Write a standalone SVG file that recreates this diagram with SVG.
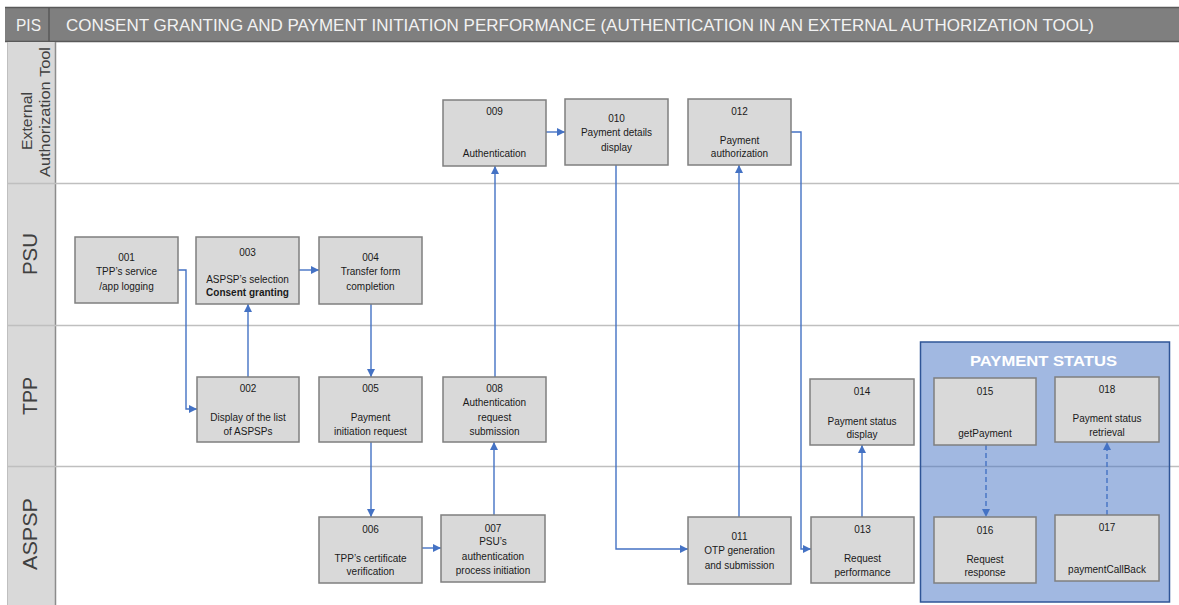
<svg xmlns="http://www.w3.org/2000/svg" width="1179" height="605" viewBox="0 0 1179 605">
  <style>
    .node rect { fill: #d9d9d9; stroke: #7f7f7f; stroke-width: 1.5; }
    .node text { font-family: "Liberation Sans", Arial, sans-serif; font-size: 10px; fill: #1a1a1a; text-anchor: middle; }
    .node text.b { font-weight: bold; }
    .lane-label { font-family: "Liberation Sans", Arial, sans-serif; fill: #404040; text-anchor: middle; }
    .sep { stroke: #bfbfbf; stroke-width: 1.5; }
    .conn { fill: none; stroke: #4472c4; stroke-width: 1.4; }
    .dash { stroke-dasharray: 5 3; }
  </style>
  <defs>
    <marker id="arrow" markerUnits="userSpaceOnUse" markerWidth="9" markerHeight="9" refX="8" refY="4" orient="auto">
      <path d="M0,0 L8,4 L0,8 Z" fill="#4472c4"/>
    </marker>
  </defs>

  <rect x="0" y="0" width="1179" height="605" fill="#ffffff"/>

  <!-- title band -->
  <g id="header">
    <rect x="5" y="7" width="1174" height="35" fill="#7f7f7f"/>
    <line x1="5" y1="7.5" x2="1179" y2="7.5" stroke="#595959" stroke-width="1.5"/>
    <line x1="5" y1="41.5" x2="1179" y2="41.5" stroke="#595959" stroke-width="1.5"/>
    <line x1="49" y1="7" x2="49" y2="42" stroke="#595959" stroke-width="1.5"/>
    <text x="28.5" y="30.5" font-family="Liberation Sans, Arial, sans-serif" font-size="17" fill="#f2f2f2" text-anchor="middle" textLength="25" lengthAdjust="spacingAndGlyphs">PIS</text>
    <text x="66" y="30.5" font-family="Liberation Sans, Arial, sans-serif" font-size="17" fill="#f2f2f2" textLength="1028" lengthAdjust="spacingAndGlyphs">CONSENT GRANTING AND PAYMENT INITIATION PERFORMANCE (AUTHENTICATION IN AN EXTERNAL AUTHORIZATION TOOL)</text>
  </g>

  <!-- lane label column -->
  <g id="lanes">
    <rect x="7" y="42" width="49" height="563" fill="#d9d9d9"/>
    <line x1="7.5" y1="42" x2="7.5" y2="605" stroke="#bfbfbf" stroke-width="1"/>
    <line x1="55.5" y1="42" x2="55.5" y2="605" stroke="#8c8c8c" stroke-width="1.5"/>
    <text class="lane-label" font-size="15" transform="translate(32,121) rotate(-90)" textLength="58" lengthAdjust="spacingAndGlyphs">External</text>
    <text class="lane-label" font-size="15" transform="translate(50,112) rotate(-90)" textLength="130" lengthAdjust="spacingAndGlyphs">Authorization Tool</text>
    <text class="lane-label" font-size="20" transform="translate(37,254) rotate(-90)" textLength="42" lengthAdjust="spacingAndGlyphs">PSU</text>
    <text class="lane-label" font-size="20" transform="translate(37,396) rotate(-90)" textLength="38" lengthAdjust="spacingAndGlyphs">TPP</text>
    <text class="lane-label" font-size="20" transform="translate(37,534) rotate(-90)" textLength="72" lengthAdjust="spacingAndGlyphs">ASPSP</text>
    <line class="sep" x1="7" y1="183.5" x2="1179" y2="183.5"/>
    <line class="sep" x1="7" y1="325.5" x2="1179" y2="325.5"/>
    <line class="sep" x1="7" y1="466.5" x2="1179" y2="466.5"/>
  </g>

  <!-- payment status container -->
  <g id="payment-status">
    <rect x="920.5" y="342" width="249" height="260" fill="#4472c4" fill-opacity="0.5" stroke="#2f5597" stroke-width="1.5"/>
    <text x="1043.5" y="365.5" font-family="Liberation Sans, Arial, sans-serif" font-size="15" font-weight="bold" fill="#ffffff" text-anchor="middle" textLength="147" lengthAdjust="spacingAndGlyphs">PAYMENT STATUS</text>
  </g>

  <!-- connectors -->
  <g id="connectors">
    <polyline class="conn" points="178,270 186,270 186,409 197,409" marker-end="url(#arrow)"/>
    <line class="conn" x1="248" y1="377" x2="248" y2="304" marker-end="url(#arrow)"/>
    <line class="conn" x1="299" y1="270" x2="319" y2="270" marker-end="url(#arrow)"/>
    <line class="conn" x1="371" y1="304" x2="371" y2="377" marker-end="url(#arrow)"/>
    <line class="conn" x1="371" y1="442" x2="371" y2="517" marker-end="url(#arrow)"/>
    <line class="conn" x1="422" y1="548" x2="441" y2="548" marker-end="url(#arrow)"/>
    <line class="conn" x1="494" y1="515" x2="494" y2="442" marker-end="url(#arrow)"/>
    <line class="conn" x1="495" y1="377" x2="495" y2="166" marker-end="url(#arrow)"/>
    <line class="conn" x1="546" y1="132" x2="565" y2="132" marker-end="url(#arrow)"/>
    <polyline class="conn" points="616,165 616,549 688,549" marker-end="url(#arrow)"/>
    <line class="conn" x1="739" y1="517" x2="739" y2="165" marker-end="url(#arrow)"/>
    <polyline class="conn" points="791,132 801,132 801,549 811,549" marker-end="url(#arrow)"/>
    <line class="conn" x1="862" y1="517" x2="862" y2="445" marker-end="url(#arrow)"/>
    <line class="conn dash" x1="986" y1="445" x2="986" y2="517" marker-end="url(#arrow)"/>
    <line class="conn dash" x1="1107" y1="515" x2="1107" y2="442" marker-end="url(#arrow)"/>
  </g>

  <!-- PSU lane -->
  <g id="n001" class="node">
    <rect x="75" y="237" width="103" height="66"/>
    <text x="126.5" y="260.5">001</text>
    <text x="126.5" y="274.5">TPP’s service</text>
    <text x="126.5" y="289.5">/app logging</text>
  </g>
  <g id="n003" class="node">
    <rect x="196" y="237" width="103" height="67"/>
    <text x="247.5" y="255.5">003</text>
    <text x="247.5" y="282.5">ASPSP’s selection</text>
    <text class="b" x="247.5" y="295.5">Consent granting</text>
  </g>
  <g id="n004" class="node">
    <rect x="319" y="237" width="103" height="67"/>
    <text x="370.5" y="260.5">004</text>
    <text x="370.5" y="274.5">Transfer form</text>
    <text x="370.5" y="289.5">completion</text>
  </g>

  <!-- TPP lane -->
  <g id="n002" class="node">
    <rect x="197" y="377" width="102" height="65"/>
    <text x="248" y="391.5">002</text>
    <text x="248" y="420.5">Display of the list</text>
    <text x="248" y="434.5">of ASPSPs</text>
  </g>
  <g id="n005" class="node">
    <rect x="319" y="377" width="103" height="65"/>
    <text x="370.5" y="391.5">005</text>
    <text x="370.5" y="420.5">Payment</text>
    <text x="370.5" y="434.5">initiation request</text>
  </g>
  <g id="n008" class="node">
    <rect x="443" y="377" width="103" height="65"/>
    <text x="494.5" y="391.5">008</text>
    <text x="494.5" y="406">Authentication</text>
    <text x="494.5" y="420.5">request</text>
    <text x="494.5" y="434.5">submission</text>
  </g>
  <g id="n014" class="node">
    <rect x="810" y="379" width="104" height="66"/>
    <text x="862" y="394.5">014</text>
    <text x="862" y="424.5">Payment status</text>
    <text x="862" y="437.5">display</text>
  </g>

  <!-- ASPSP lane -->
  <g id="n006" class="node">
    <rect x="319" y="517" width="103" height="66"/>
    <text x="370.5" y="532.5">006</text>
    <text x="370.5" y="561.5">TPP’s certificate</text>
    <text x="370.5" y="574.5">verification</text>
  </g>
  <g id="n007" class="node">
    <rect x="441" y="515" width="104" height="67"/>
    <text x="493" y="531.5">007</text>
    <text x="493" y="545">PSU’s</text>
    <text x="493" y="560">authentication</text>
    <text x="493" y="573.5">process initiation</text>
  </g>
  <g id="n011" class="node">
    <rect x="688" y="517" width="103" height="67"/>
    <text x="739.5" y="539.5">011</text>
    <text x="739.5" y="553.5">OTP generation</text>
    <text x="739.5" y="568.5">and submission</text>
  </g>
  <g id="n013" class="node">
    <rect x="811" y="517" width="103" height="66"/>
    <text x="862.5" y="532.5">013</text>
    <text x="862.5" y="561.5">Request</text>
    <text x="862.5" y="575.5">performance</text>
  </g>

  <!-- External Authorization Tool lane -->
  <g id="n009" class="node">
    <rect x="443" y="100" width="103" height="66"/>
    <text x="494.5" y="114.5">009</text>
    <text x="494.5" y="156.5">Authentication</text>
  </g>
  <g id="n010" class="node">
    <rect x="565" y="99" width="103" height="66"/>
    <text x="616.5" y="121.5">010</text>
    <text x="616.5" y="135.5">Payment details</text>
    <text x="616.5" y="150.5">display</text>
  </g>
  <g id="n012" class="node">
    <rect x="688" y="99" width="103" height="66"/>
    <text x="739.5" y="114.5">012</text>
    <text x="739.5" y="143.5">Payment</text>
    <text x="739.5" y="156.5">authorization</text>
  </g>

  <!-- payment status steps -->
  <g id="n015" class="node">
    <rect x="934" y="378" width="102" height="67"/>
    <text x="985" y="394.5">015</text>
    <text x="985" y="436.5">getPayment</text>
  </g>
  <g id="n018" class="node">
    <rect x="1055" y="377" width="104" height="65"/>
    <text x="1107" y="392.5">018</text>
    <text x="1107" y="421.5">Payment status</text>
    <text x="1107" y="435.5">retrieval</text>
  </g>
  <g id="n016" class="node">
    <rect x="934" y="517" width="102" height="66"/>
    <text x="985" y="533.5">016</text>
    <text x="985" y="562.5">Request</text>
    <text x="985" y="575.5">response</text>
  </g>
  <g id="n017" class="node">
    <rect x="1055" y="515" width="104" height="66"/>
    <text x="1107" y="530.5">017</text>
    <text x="1107" y="572.5">paymentCallBack</text>
  </g>
</svg>
